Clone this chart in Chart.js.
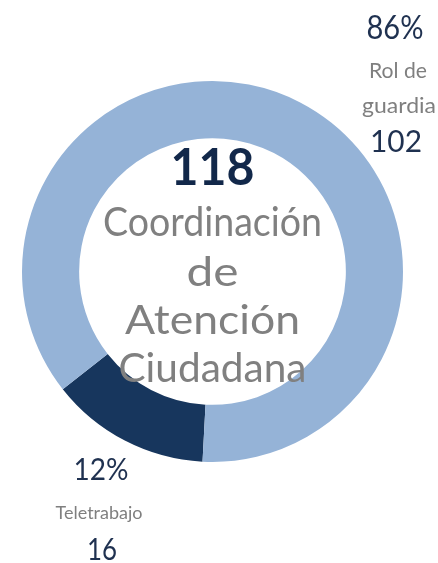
<!DOCTYPE html>
<html>
<head>
<meta charset="utf-8">
<script src="https://cdn.jsdelivr.net/npm/chart.js@4.4.1/dist/chart.umd.min.js"></script>
<style>
  html, body { margin: 0; padding: 0; background: #ffffff; }
  #wrap { width: 438px; height: 563px; position: relative; }
</style>
</head>
<body>
<div id="wrap"><canvas id="myChart" width="438" height="563"></canvas></div>
<script>
// chart data
const categories = ['Teletrabajo', 'Rol de guardia'];
const values = [16, 102];
const percentLabels = ['12%', '86%'];
const sliceColors = ['#17365d', '#95b3d7'];
const totalLabel = '118';
const centerLines = ['Coordinación', 'de', 'Atención', 'Ciudadana'];

const FONT = 'Lato, "Open Sans", sans-serif';

// draw text squeezed or stretched to a given width
function fitText(ctx, text, x, y, width) {
    const w = ctx.measureText(text).width;
    ctx.save();
    ctx.translate(x, y);
    ctx.scale(width / w, 1);
    ctx.fillText(text, 0, 0);
    ctx.restore();
}

const labelPlugin = {
    id: 'labelPlugin',
    afterDraw(chart) {
        const ctx = chart.ctx;
        const arc = chart.getDatasetMeta(0).data[0];
        const cx = arc.x;
        const cy = arc.y;
        ctx.save();
        ctx.textAlign = 'center';
        ctx.textBaseline = 'middle';

        // center total
        ctx.fillStyle = '#12284a';
        ctx.font = 'bold 51px ' + FONT;
        fitText(ctx, totalLabel, cx, cy - 103, 84);

        // center title
        ctx.fillStyle = '#808080';
        ctx.font = '41px ' + FONT;
        const widths = [219, 52, 175, 188];
        const offs = [-49, 1, 49, 97];
        centerLines.forEach((line, i) => {
            fitText(ctx, line, cx, cy + offs[i], widths[i]);
        });

        // Rol de guardia (right top)
        ctx.fillStyle = '#1f3150';
        ctx.font = '33px ' + FONT;
        fitText(ctx, percentLabels[1], 395, 28, 57);
        ctx.font = '31px ' + FONT;
        fitText(ctx, String(values[1]), 396, 142, 52);
        ctx.fillStyle = '#7f7f7f';
        ctx.font = '22px ' + FONT;
        const parts = categories[1].split(' ');
        fitText(ctx, parts[0] + ' ' + parts[1], 398, 71, 58);
        fitText(ctx, parts[2], 399, 106, 74);

        // Teletrabajo (left bottom)
        ctx.fillStyle = '#1f3150';
        ctx.font = '31px ' + FONT;
        fitText(ctx, percentLabels[0], 101, 470, 55);
        fitText(ctx, String(values[0]), 102, 550, 30);
        ctx.fillStyle = '#7f7f7f';
        ctx.font = '18px ' + FONT;
        fitText(ctx, categories[0], 99, 513, 87);

        ctx.restore();
    }
};

new Chart(document.getElementById('myChart').getContext('2d'), {
    type: 'doughnut',
    data: {
        labels: categories,
        datasets: [{
            data: values,
            backgroundColor: sliceColors,
            borderWidth: 0
        }]
    },
    options: {
        responsive: false,
        animation: false,
        rotation: 183,
        cutout: '70%',
        layout: {
            padding: { left: 22, right: 35, top: 80, bottom: 100 }
        },
        plugins: {
            legend: { display: false },
            tooltip: { enabled: false }
        }
    },
    plugins: [labelPlugin]
});
</script>
</body>
</html>
